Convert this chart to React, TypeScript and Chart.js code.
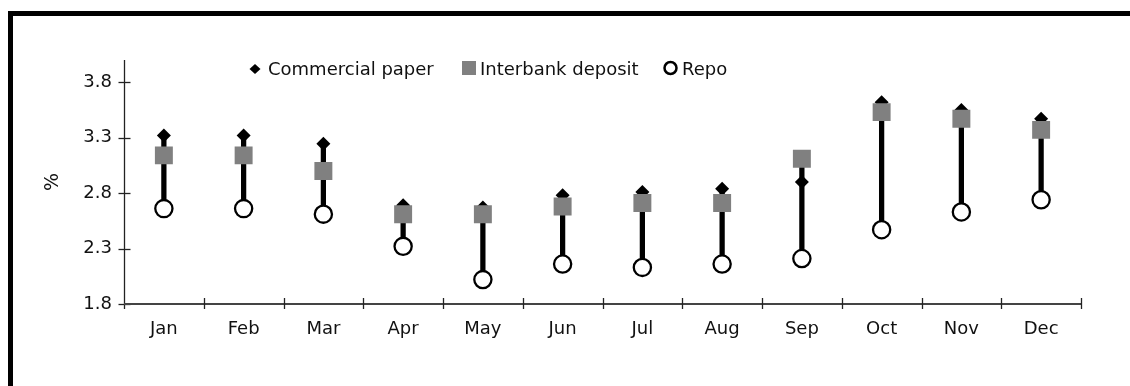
import React, { useEffect, useRef } from "react";
import { Chart, registerables } from "chart.js";

Chart.register(...registerables);

const months = ["Jan", "Feb", "Mar", "Apr", "May", "Jun", "Jul", "Aug", "Sep", "Oct", "Nov", "Dec"];
const commercialPaper = [3.32, 3.32, 3.245, 2.69, 2.67, 2.78, 2.81, 2.84, 2.9, 3.62, 3.55, 3.47];
const interbankDeposit = [3.14, 3.14, 3.0, 2.61, 2.61, 2.68, 2.71, 2.71, 3.11, 3.53, 3.47, 3.37];
const repo = [2.66, 2.66, 2.61, 2.32, 2.02, 2.16, 2.13, 2.16, 2.21, 2.47, 2.63, 2.74];
const yTicks = [1.8, 2.3, 2.8, 3.3, 3.8];
const legendLabels = ["Commercial paper", "Interbank deposit", "Repo"];

const FONT = '"DejaVu Sans", sans-serif';

const axesPlugin = {
  id: "crossAxes",
  beforeDatasetsDraw(chart: any) {
    const { ctx, chartArea, scales } = chart;
    const x = scales.x;
    const y = scales.y;
    ctx.save();
    // y axis
    ctx.strokeStyle = "#222";
    ctx.lineWidth = 1.3;
    const ax = chartArea.left + 0.5;
    ctx.beginPath();
    ctx.moveTo(ax, chartArea.top);
    ctx.lineTo(ax, chartArea.bottom + 5);
    ctx.stroke();
    // y ticks
    y.ticks.forEach((t: any) => {
      const py = Math.round(y.getPixelForValue(t.value)) + 0.5;
      ctx.beginPath();
      ctx.moveTo(ax - 6, py);
      ctx.lineTo(ax + 6, py);
      ctx.stroke();
    });
    // x axis
    ctx.strokeStyle = "#444";
    ctx.lineWidth = 2;
    const by = chartArea.bottom;
    ctx.beginPath();
    ctx.moveTo(chartArea.left, by);
    ctx.lineTo(chartArea.right, by);
    ctx.stroke();
    ctx.lineWidth = 1.3;
    ctx.strokeStyle = "#222";
    for (let i = 1; i <= months.length; i++) {
      const px = Math.round(x.getPixelForValue(i - 0.5)) + 0.5;
      ctx.beginPath();
      ctx.moveTo(px, by - 6);
      ctx.lineTo(px, by + 5);
      ctx.stroke();
    }
    ctx.restore();
  },
};

const legendPlugin = {
  id: "customLegend",
  afterDraw(chart: any) {
    const ctx = chart.ctx;
    ctx.save();
    ctx.font = "18px " + FONT;
    ctx.fillStyle = "#111";
    ctx.textBaseline = "alphabetic";
    // diamond
    const dx = 242, dy = 53;
    ctx.fillStyle = "#000";
    ctx.beginPath();
    ctx.moveTo(dx - 5.5, dy);
    ctx.lineTo(dx, dy - 5);
    ctx.lineTo(dx + 5.5, dy);
    ctx.lineTo(dx, dy + 5);
    ctx.closePath();
    ctx.fill();
    ctx.fillStyle = "#111";
    ctx.fillText(legendLabels[0], 255, 59);
    // square
    ctx.fillStyle = "#808080";
    ctx.fillRect(449, 45, 14, 14);
    ctx.fillStyle = "#111";
    ctx.fillText(legendLabels[1], 467, 59);
    // circle
    ctx.beginPath();
    ctx.arc(657.5, 52, 6, 0, Math.PI * 2);
    ctx.fillStyle = "#fff";
    ctx.fill();
    ctx.lineWidth = 2.5;
    ctx.strokeStyle = "#000";
    ctx.stroke();
    ctx.fillStyle = "#111";
    ctx.fillText(legendLabels[2], 669, 59);
    ctx.restore();
  },
};

export default function App() {
  const ref = useRef<HTMLCanvasElement | null>(null);

  useEffect(() => {
    if (!ref.current) return;
    const ranges = months.map((_, i) => {
      const vals = [commercialPaper[i], interbankDeposit[i], repo[i]];
      return [Math.min(...vals), Math.max(...vals)];
    });
    const chart = new Chart(ref.current, {
      type: "bar",
      data: {
        labels: months,
        datasets: [
          {
            type: "bar",
            label: "range",
            data: ranges as any,
            backgroundColor: "#000",
            barThickness: 4.6,
            order: 4,
          } as any,
          {
            type: "line",
            label: legendLabels[0],
            data: commercialPaper,
            showLine: false,
            pointStyle: "rectRot",
            pointRadius: 7,
            pointBackgroundColor: "#000",
            pointBorderWidth: 0,
            order: 3,
          },
          {
            type: "line",
            label: legendLabels[1],
            data: interbankDeposit,
            showLine: false,
            pointStyle: "rect",
            pointRadius: 12.7,
            pointBackgroundColor: "#808080",
            pointBorderWidth: 0,
            order: 2,
          },
          {
            type: "line",
            label: legendLabels[2],
            data: repo,
            showLine: false,
            pointStyle: "circle",
            pointRadius: 8.6,
            pointBackgroundColor: "#fff",
            pointBorderColor: "#000",
            pointBorderWidth: 2.3,
            order: 1,
          },
        ],
      },
      options: {
        responsive: false,
        animation: false,
        devicePixelRatio: 1,
        layout: { padding: { top: 44, right: 49, bottom: 42, left: 29 } },
        plugins: {
          legend: { display: false },
          tooltip: { enabled: false },
        },
        scales: {
          x: {
            type: "category",
            offset: true,
            grid: { display: false, drawTicks: false },
            border: { display: false },
            ticks: {
              color: "#111",
              font: { family: FONT, size: 18 },
              padding: 15,
              maxRotation: 0,
              autoSkip: false,
            },
            afterFit: (s: any) => {
              s.height = 40;
            },
          },
          y: {
            type: "linear",
            min: 1.8,
            max: 4.0,
            grid: { display: false, drawTicks: false },
            border: { display: false },
            afterBuildTicks: (s: any) => {
              s.ticks = yTicks.map((v) => ({ value: v }));
            },
            ticks: {
              color: "#111",
              font: { family: FONT, size: 18 },
              padding: 12,
              callback: (v: any) => Number(v).toFixed(1),
            },
            title: {
              display: true,
              text: "%",
              color: "#111",
              font: { family: FONT, size: 19 },
              padding: 0,
            },
            afterFit: (s: any) => {
              s.width = 82;
            },
          },
        },
      },
      plugins: [axesPlugin, legendPlugin],
    });
    return () => chart.destroy();
  }, []);

  return (
    <div>
      <div
        style={{
          position: "fixed",
          left: 8,
          top: 11,
          right: -40,
          bottom: -40,
          borderLeft: "5px solid #000",
          borderTop: "5px solid #000",
          background: "#fff",
        }}
      />
      <canvas
        ref={ref}
        width={1117}
        height={370}
        style={{ position: "fixed", left: 13, top: 16, width: 1117, height: 370 }}
      />
    </div>
  );
}
